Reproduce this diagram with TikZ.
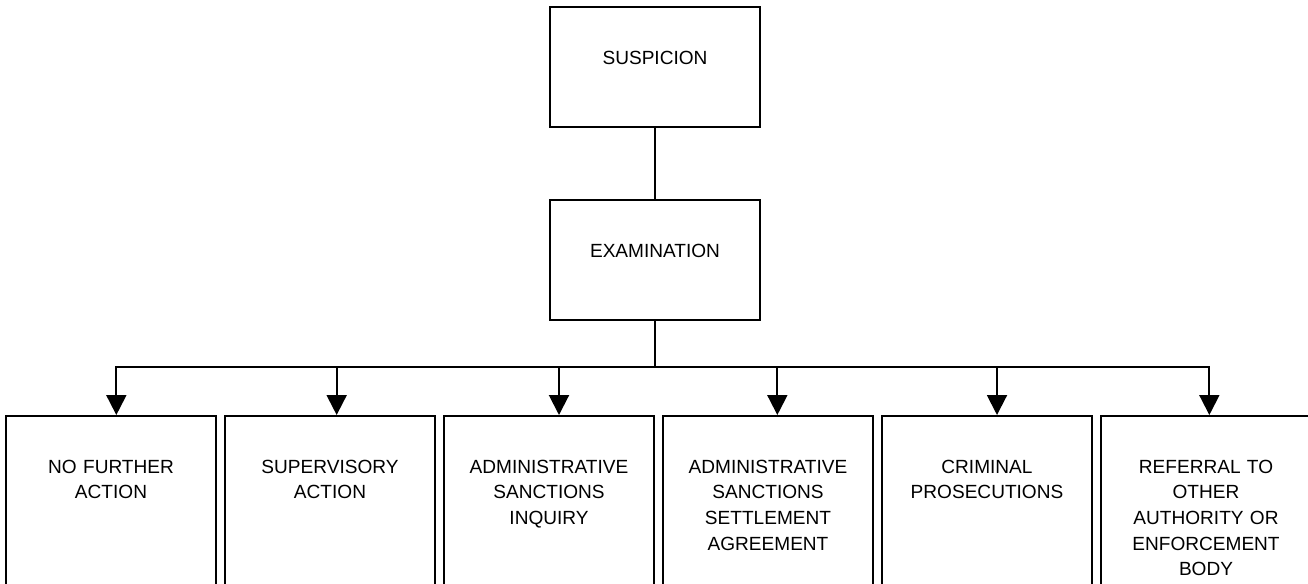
\documentclass[tikz,border=0pt]{standalone}
\usepackage{fontspec}
\setmainfont{Liberation Sans}
\usetikzlibrary{arrows.meta,positioning}

\begin{document}
\begin{tikzpicture}[
  x=0.75pt, y=-0.75pt, line width=1.5pt, >={Triangle[length=15pt,width=15pt]},
  box/.style={draw,rectangle,align=center,text width=151.5pt,inner xsep=3pt,inner ysep=0pt,
    text height=42.75pt,text depth=47.25pt,font=\fontsize{14.3}{19.3}\selectfont},
  leaf/.style={box,text depth=125pt}
]
\useasboundingbox (0,0) rectangle (1308,583);
\clip (0,0) rectangle (1308,583);
\node[box,anchor=north] (sus) at (655,6) {SUSPICION};
\node[box,below=53.25pt of sus] (exam) {EXAMINATION};
\node[leaf,anchor=north] (b1) at (111,415) {NO FURTHER\\ACTION};
\node[leaf,right=5.25pt of b1] (b2) {SUPERVISORY\\ACTION};
\node[leaf,right=5.25pt of b2] (b3) {ADMINISTRATIVE\\SANCTIONS\\INQUIRY};
\node[leaf,right=5.25pt of b3] (b4) {ADMINISTRATIVE\\SANCTIONS\\SETTLEMENT\\AGREEMENT};
\node[leaf,right=5.25pt of b4] (b5) {CRIMINAL\\PROSECUTIONS};
\node[leaf,right=5.25pt of b5] (b6) {REFERRAL TO\\OTHER\\AUTHORITY OR\\ENFORCEMENT\\BODY};
\coordinate (bus) at ([yshift=-34.5pt]exam.south);
\draw (sus) -- (exam);
\draw (exam) -- (bus);
\foreach \n/\dx in {1/4,2/5,3/7.5,4/7,5/7.5,6/2.5}
  \draw[->] (bus) -| ([xshift=\dx pt]b\n.north);
\end{tikzpicture}
\end{document}
